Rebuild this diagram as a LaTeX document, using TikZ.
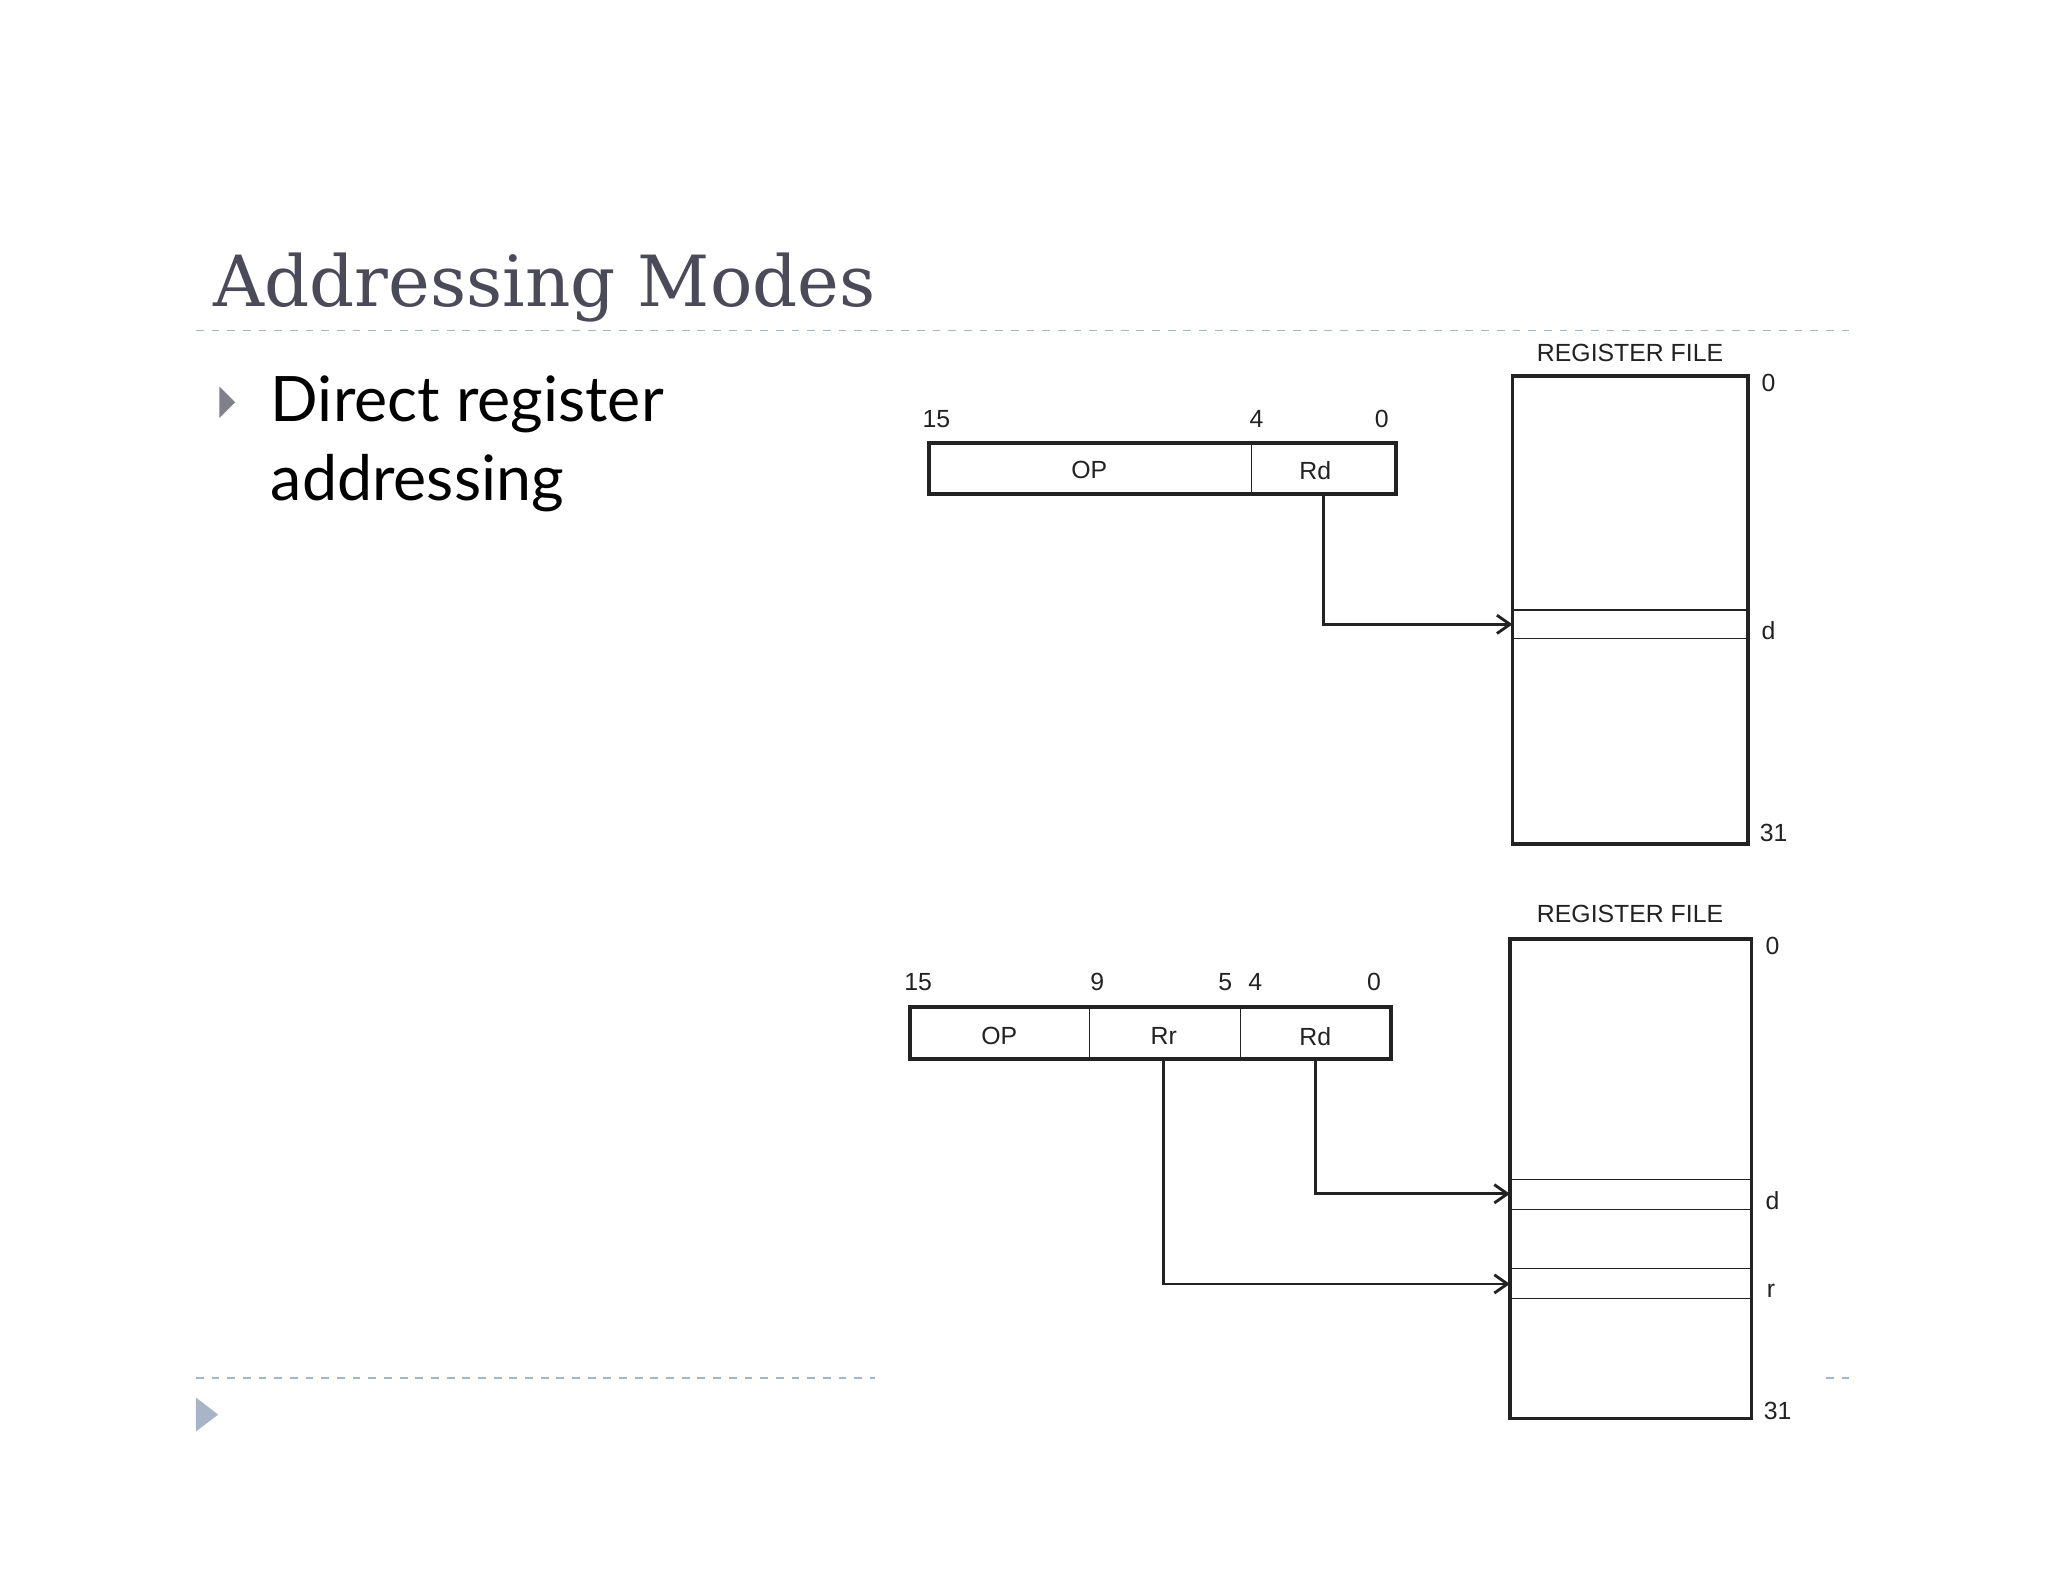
\documentclass[tikz,border=0pt]{standalone}
\usepackage{fontspec}
\setmainfont{Liberation Sans}
\newfontfamily\titlefont{DejaVu Serif}
\newfontfamily\bodyfont{Lato}
\usetikzlibrary{arrows.meta}
\definecolor{ttl}{HTML}{4A4A58}
\definecolor{dsh}{HTML}{A8B4C8}
\definecolor{ink}{HTML}{222222}
\begin{document}
\begin{tikzpicture}[x=0.5pt,y=-0.5pt,
  thick box/.style={draw=ink,line width=1.5pt},
  thin line/.style={draw=ink,line width=0.5pt},
  lbl/.style={font=\fontsize{9.5}{11}\selectfont,text=ink,inner sep=0pt},
  conn/.style={draw=ink,line width=1.1pt,-{Straight Barb[length=5pt,width=7pt]}}]
\useasboundingbox (0,0) rectangle (1568,1211);
\fill[white] (0,0) rectangle (1568,1211);
% slide decoration
\node[anchor=base west,inner sep=0pt,text=ttl,font=\titlefont\fontsize{27}{30}\selectfont] (title) at (163,235) {Addressing Modes};
\draw[dsh,dashed,line width=0.6pt] (150,253) -- (1418,253);
\draw[dsh,dashed,line width=0.6pt] (150,1055) -- (670,1055);
\draw[dsh,dashed,line width=0.6pt] (1398,1055) -- (1418,1055);
\fill[ttl!70] (168,296) -- (180,308) -- (168,320) -- cycle;
\node[anchor=base west,inner sep=0pt,font=\bodyfont\fontsize{24}{30}\selectfont] (b1) at (207,323) {Direct register};
\node[anchor=base west,inner sep=0pt,font=\bodyfont\fontsize{24}{30}\selectfont] (b2) at (207,383) {addressing};
\fill[dsh] (150,1070) -- (167,1083) -- (150,1096) -- cycle;
% diagram 1
\path[thick box] (711,339) rectangle (1069,378);
\draw[thin line] (958,339) -- (958,378);
\node[lbl] (op1) at (834,360) {OP};
\node[lbl] (rd1) at (1007,360) {Rd};
\node[lbl] at (717,321) {15};
\node[lbl] at (962,321) {4};
\node[lbl] at (1058,321) {0};
\path[thick box] (1158,288) rectangle (1338,646);
\draw[thin line] (1158,467) -- (1338,467);
\draw[thin line] (1158,489) -- (1338,489);
\node[lbl] at (1248,270) {REGISTER FILE};
\node[lbl] at (1354,293) {0};
\node[lbl] at (1354,483) {d};
\node[lbl] at (1358,638) {31};
\coordinate (s1) at (1013,378);
\coordinate (t1) at (1158,478);
\draw[conn] (s1) |- (t1);
% diagram 2
\path[thick box] (697,771) rectangle (1065,811);
\draw[thin line] (834,771) -- (834,811);
\draw[thin line] (950,771) -- (950,811);
\node[lbl] (op2) at (765,793) {OP};
\node[lbl] (rr2) at (891,793) {Rr};
\node[lbl] (rd2) at (1007,794) {Rd};
\node[lbl] at (703,752) {15};
\node[lbl] at (840,752) {9};
\node[lbl] at (938,752) {5};
\node[lbl] at (961,752) {4};
\node[lbl] at (1052,752) {0};
\path[thick box] (1156,719) rectangle (1341,1086);
\draw[thin line] (1156,903) -- (1341,903);
\draw[thin line] (1156,926) -- (1341,926);
\draw[thin line] (1156,971) -- (1341,971);
\draw[thin line] (1156,994) -- (1341,994);
\node[lbl] at (1248,700) {REGISTER FILE};
\node[lbl] at (1357,724) {0};
\node[lbl] at (1357,919) {d};
\node[lbl] at (1356,988) {r};
\node[lbl] at (1361,1080) {31};
\coordinate (s2) at (1007,811);
\coordinate (t2) at (1156,914);
\coordinate (s3) at (891,811);
\coordinate (t3) at (1156,983);
\draw[conn] (s2) |- (t2);
\draw[conn] (s3) |- (t3);
\end{tikzpicture}
\end{document}
